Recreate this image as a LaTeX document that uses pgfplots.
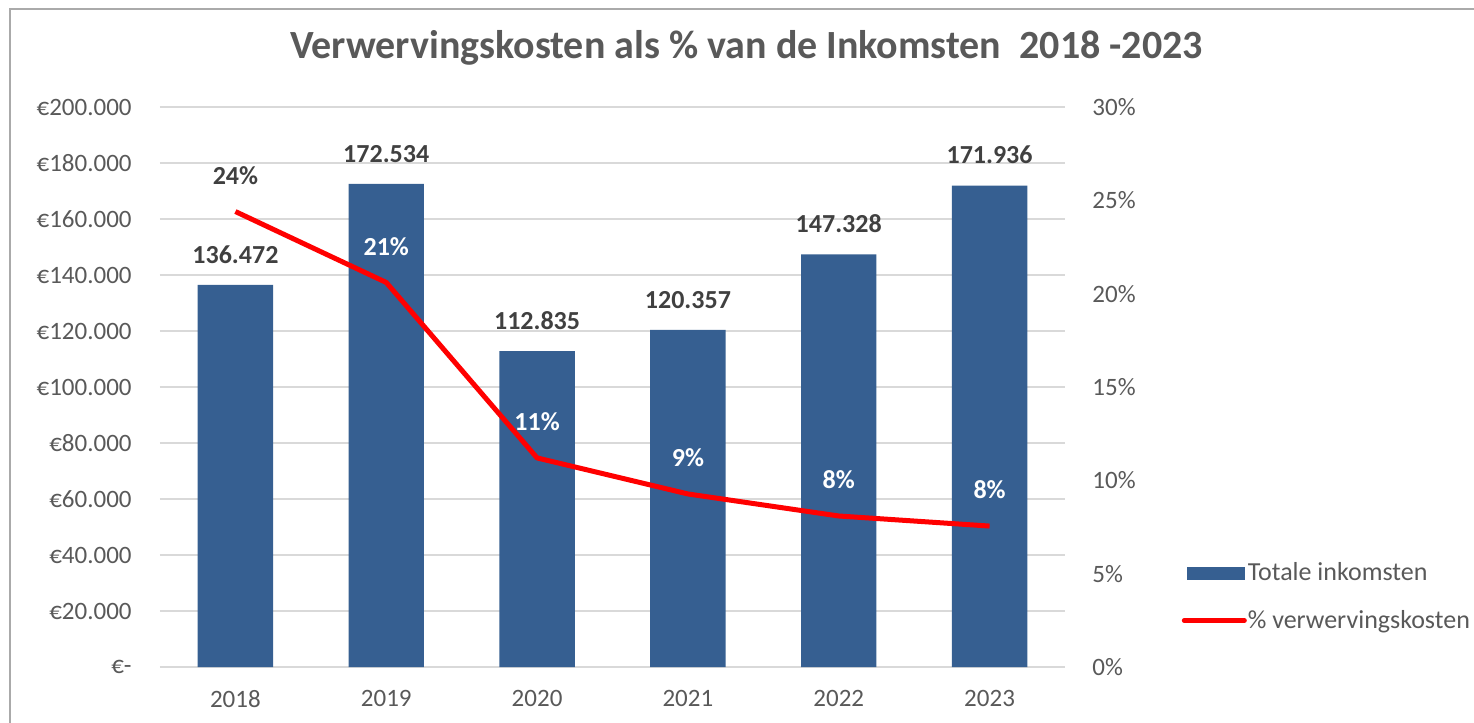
\documentclass[border=0pt]{standalone}
\usepackage{fontspec}
\setmainfont{Carlito}
\usepackage{pgfplots}
\pgfplotsset{compat=1.18}
\usepackage{pgfplotstable}
\definecolor{barblue}{RGB}{54,95,145}
\definecolor{txtgray}{RGB}{89,89,89}
\definecolor{lblgray}{RGB}{64,64,64}
\definecolor{gridgray}{RGB}{217,217,217}
\definecolor{framegray}{RGB}{170,170,170}

\pgfplotstableread{
x y
0 136472
1 172534
2 112835
3 120357
4 147328
5 171936
}\inkomsten

\pgfplotstableread{
x y
0 24.4
1 20.6
2 11.2
3 9.27
4 8.09
5 7.55
}\kosten

\pgfplotstableread{
x y
0 24.4
}\kostenA

\pgfplotstableread{
x y
1 20.6
2 11.2
3 9.27
4 8.09
5 7.55
}\kostenB

\begin{document}
\begin{tikzpicture}
\useasboundingbox (-80pt,-28pt) rectangle (657pt,333.5pt);
\draw[framegray, line width=1pt] (-75pt,-30pt) -- (-75pt,329pt) -- (660pt,329pt);
\node[font=\fontsize{20}{24}\selectfont\bfseries, text=txtgray] at (293.25pt,309.5pt)
  {Verwervingskosten als \% van de Inkomsten\ \ 2018 -2023};

\begin{axis}[
  at={(0pt,0pt)}, anchor=south west,
  scale only axis, width=452.5pt, height=280pt,
  xmin=-0.5, xmax=5.5, ymin=0, ymax=200000,
  axis x line*=bottom, axis y line*=left,
  axis line style={draw=none},
  major tick length=0pt,
  ymajorgrids, grid style={gridgray, line width=1pt},
  xtick={0,1,2,3,4,5},
  xticklabels={2018,2019,2020,2021,2022,2023},
  ytick={0,20000,40000,60000,80000,100000,120000,140000,160000,180000,200000},
  yticklabels={€-,€20.000,€40.000,€60.000,€80.000,€100.000,€120.000,€140.000,€160.000,€180.000,€200.000},
  scaled y ticks=false,
  ticklabel style={font=\fontsize{12.5}{14}\selectfont, text=txtgray},
  yticklabel style={anchor=east, inner sep=0pt, xshift=-14pt},
  xticklabel style={anchor=north, inner sep=0pt, yshift=-11.5pt},
  clip=false,
]
\addplot[ybar, bar width=0.5, fill=barblue, draw=none,
  point meta=y,
  nodes near coords={\pgfmathprintnumber[fixed,precision=0,1000 sep={.},assume math mode=true]{\pgfplotspointmeta}},
  every node near coord/.append style={anchor=south, inner sep=0pt, yshift=10.5pt,
     font=\fontsize{13}{15}\selectfont\bfseries, text=lblgray}]
  table[x=x,y=y]{\inkomsten};
\end{axis}

\begin{axis}[
  at={(0pt,0pt)}, anchor=south west,
  scale only axis, width=452.5pt, height=280pt,
  xmin=-0.5, xmax=5.5, ymin=0, ymax=30,
  axis x line=none, axis y line*=right,
  axis line style={draw=none},
  major tick length=0pt,
  ytick={0,5,10,15,20,25,30},
  yticklabels={0\%,5\%,10\%,15\%,20\%,25\%,30\%},
  ticklabel style={font=\fontsize{12.5}{14}\selectfont, text=txtgray},
  yticklabel style={anchor=west, inner sep=0pt, xshift=13.5pt},
  clip=false,
  legend style={at={(1.122,0.125)}, anchor=west, draw=none, fill=none,
    font=\fontsize{13}{15}\selectfont, text=txtgray, row sep=12pt,
    nodes={inner sep=0.5pt}},
  legend cell align=left,
]
\addlegendimage{legend image code/.code={\fill[barblue] (1.5pt,-3pt) rectangle (30pt,3pt);}}
\addlegendentry{Totale inkomsten}
\addplot[red, line width=2.5pt, line join=round, mark=none,
  legend image code/.code={\draw[red, line width=2.5pt, line cap=round] (0pt,0pt) -- (30pt,0pt);}]
  table[x=x,y=y]{\kosten};
\addlegendentry{\% verwervingskosten}
\addplot[draw=none, mark=none, forget plot, point meta=y,
  nodes near coords={\pgfmathprintnumber[fixed,precision=0,assume math mode=true]{\pgfplotspointmeta}\%},
  every node near coord/.append style={anchor=center, inner sep=0pt, yshift=18pt,
     font=\fontsize{13}{15}\selectfont\bfseries, text=lblgray}]
  table[x=x,y=y]{\kostenA};
\addplot[draw=none, mark=none, forget plot, point meta=y,
  nodes near coords={\pgfmathprintnumber[fixed,precision=0,assume math mode=true]{\pgfplotspointmeta}\%},
  every node near coord/.append style={anchor=center, inner sep=0pt, yshift=18pt,
     font=\fontsize{13}{15}\selectfont\bfseries, text=white}]
  table[x=x,y=y]{\kostenB};
\end{axis}
\end{tikzpicture}
\end{document}
